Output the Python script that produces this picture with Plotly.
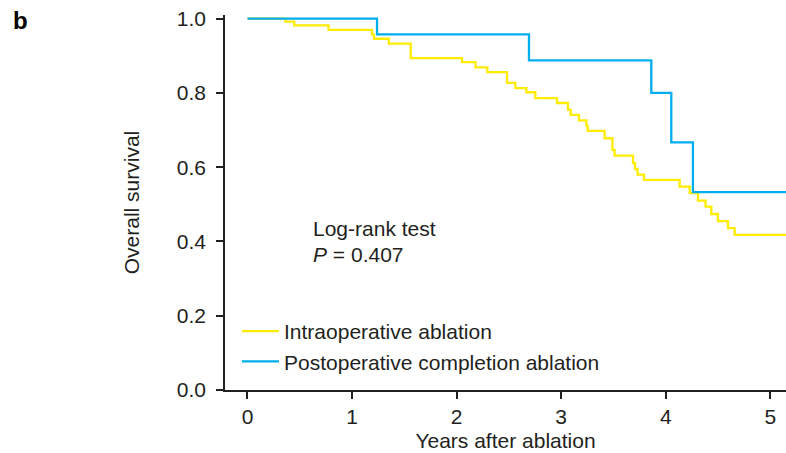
import plotly.graph_objects as go

# Kaplan-Meier step data
intra_years = [0, 0.363, 0.447, 0.775, 1.191, 1.210, 1.351, 1.561, 2.052, 2.18, 2.294,
               2.482, 2.562, 2.667, 2.753, 2.96, 3.065, 3.091, 3.17, 3.241, 3.253, 3.416,
               3.49, 3.511, 3.687, 3.706, 3.731, 3.792, 4.133, 4.229, 4.308, 4.381, 4.436,
               4.499, 4.595, 4.659, 5.15]
intra_surv = [1.0, 0.992, 0.982, 0.970, 0.957, 0.946, 0.933, 0.894, 0.883, 0.869, 0.856,
              0.827, 0.813, 0.802, 0.786, 0.773, 0.755, 0.741, 0.726, 0.712, 0.698, 0.678,
              0.647, 0.631, 0.611, 0.595, 0.580, 0.566, 0.548, 0.530, 0.510, 0.494, 0.474,
              0.455, 0.436, 0.418, 0.418]

post_years = [0, 1.239, 2.692, 3.862, 4.053, 4.26, 5.15]
post_surv = [1.0, 0.958, 0.888, 0.800, 0.667, 0.533, 0.533]

series_names = ["Intraoperative ablation", "Postoperative completion ablation"]
x_ticks = [0, 1, 2, 3, 4, 5]
y_ticks = [0.0, 0.2, 0.4, 0.6, 0.8, 1.0]
y_ticklabels = ["0.0", "0.2", "0.4", "0.6", "0.8", "1.0"]

YELLOW = "#FFEC00"
BLUE = "#00AEEF"
INK = "#231F20"
FONT = "Liberation Sans, Arial, sans-serif"
FS = 21

fig = go.Figure()
fig.add_trace(go.Scatter(x=intra_years, y=intra_surv, mode="lines", line_shape="hv",
                         line=dict(color=YELLOW, width=2.3), name=series_names[0],
                         legendgroup="a"))
fig.add_trace(go.Scatter(x=post_years, y=post_surv, mode="lines", line_shape="hv",
                         line=dict(color=BLUE, width=2.3), name=series_names[1],
                         legendgroup="b"))

axis_common = dict(showline=True, linecolor=INK, linewidth=1.5, ticks="outside",
                   tickcolor=INK, tickwidth=1.5, ticklen=7, showgrid=False, zeroline=False,
                   tickfont=dict(family=FONT, size=FS, color=INK),
                   title_font=dict(family=FONT, size=FS, color=INK))

fig.update_xaxes(range=[-0.215, 5.15], tickvals=x_ticks, ticktext=[str(v) for v in x_ticks],
                 title_text="Years after ablation", title_standoff=6, **axis_common)
fig.update_yaxes(range=[0, 1.01], tickvals=y_ticks, ticktext=y_ticklabels,
                 title_text="Overall survival", title_standoff=31, ticklabelstandoff=6,
                 **axis_common)

fig.add_annotation(x=0.605, y=0.434, xref="x", yref="y", text="Log-rank test",
                   showarrow=False, xanchor="left", yanchor="middle",
                   font=dict(family=FONT, size=FS, color=INK))
fig.add_annotation(x=0.605, y=0.364, xref="x", yref="y", text="<i>P</i> = 0.407",
                   showarrow=False, xanchor="left", yanchor="middle",
                   font=dict(family=FONT, size=FS, color=INK))
fig.add_annotation(x=-0.3654, y=0.9853, xref="paper", yref="paper", text="<b>b</b>",
                   showarrow=False, xanchor="center", yanchor="middle",
                   font=dict(family=FONT, size=24, color="#000000"))

fig.update_layout(
    width=786, height=453,
    margin=dict(l=225, r=0, t=15, b=63, autoexpand=False),
    plot_bgcolor="white", paper_bgcolor="white",
    font=dict(family=FONT, size=FS, color=INK),
    legend=dict(x=0.0214, y=0.211, xanchor="left", yanchor="top",
                bgcolor="rgba(0,0,0,0)", traceorder="grouped", tracegroupgap=0,
                itemwidth=37, font=dict(family=FONT, size=FS, color=INK)),
    showlegend=True,
)

fig.write_html("out.html", config={"displayModeBar": False},
               post_script="document.body.style.margin='0px';")
